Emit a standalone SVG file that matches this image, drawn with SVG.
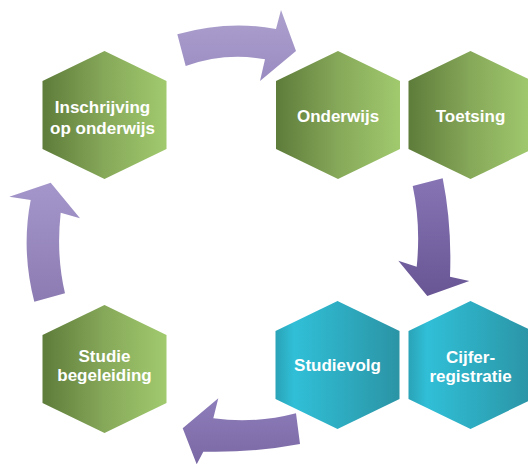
<svg xmlns="http://www.w3.org/2000/svg" xmlns:xlink="http://www.w3.org/1999/xlink" width="528" height="464" viewBox="0 0 528 464">
<style>
.lbl{font-family:"Liberation Sans",Arial,sans-serif;font-weight:bold;font-size:17px;fill:#ffffff;text-anchor:middle}
</style>
<defs>
<linearGradient id="green" x1="0" y1="0" x2="1" y2="0">
<stop offset="0" stop-color="#5e7c3a"/>
<stop offset="0.5" stop-color="#86a859"/>
<stop offset="1" stop-color="#a1ca6e"/>
</linearGradient>
<linearGradient id="teal" x1="0" y1="0" x2="1" y2="0">
<stop offset="0" stop-color="#2aa3b7"/>
<stop offset="0.15" stop-color="#30bfd7"/>
<stop offset="1" stop-color="#2b94a5"/>
</linearGradient>
<linearGradient id="aTop" x1="0" y1="0" x2="0" y2="1">
<stop offset="0" stop-color="#ada1ce"/>
<stop offset="1" stop-color="#9a8bc1"/>
</linearGradient>
<linearGradient id="aRight" x1="0" y1="0" x2="0" y2="1">
<stop offset="0" stop-color="#8674b4"/>
<stop offset="1" stop-color="#685594"/>
</linearGradient>
<linearGradient id="aBottom" x1="0" y1="0" x2="0" y2="1">
<stop offset="0" stop-color="#8d7dba"/>
<stop offset="1" stop-color="#7a68a4"/>
</linearGradient>
<linearGradient id="aLeft" x1="0" y1="0" x2="0" y2="1">
<stop offset="0" stop-color="#a496ca"/>
<stop offset="1" stop-color="#8c7bb2"/>
</linearGradient>
<path id="hex" d="M0,-64 L62,-34 L62,34 L0,64 L-62,34 L-62,-34 Z"/>
</defs>
<rect width="528" height="464" fill="#ffffff"/>
<g id="connectors">
<path id="arrow-top" fill="url(#aTop)" d="M177.3,34.3 Q228,20 276,29 L281,10 L296,51 L260,81 L265,59.3 Q225,52 185.7,66 Z"/>
<path id="arrow-right" fill="url(#aRight)" d="M412.7,186 L442.7,178.3 Q452,225 450,276.7 L469.3,281 L427.3,296 L398.3,260.7 L416.7,266.7 Q421,225 412.7,186 Z"/>
<path id="arrow-bottom" fill="url(#aBottom)" d="M296,413.3 L300,444 Q252,453 203.3,451.7 L196.7,464.3 L182.7,428.3 L218.3,398.3 L213.3,418.3 Q255,424 296,413.3 Z"/>
<path id="arrow-left" fill="url(#aLeft)" d="M34.3,301.7 L65,293.3 Q56,255 60.7,212.7 L80,218.3 L50.7,182.7 L9.3,196.7 L30.7,200 Q21,250 34.3,301.7 Z"/>
</g>
<g id="node-inschrijving" transform="translate(104.5,115)">
<use xlink:href="#hex" fill="url(#green)"/>
<text class="lbl" x="-2" y="-2">Inschrijving</text>
<text class="lbl" x="-2" y="19">op onderwijs</text>
</g>
<g id="node-onderwijs" transform="translate(338,115)">
<use xlink:href="#hex" fill="url(#green)"/>
<text class="lbl" x="0" y="6.5">Onderwijs</text>
</g>
<g id="node-toetsing" transform="translate(470.5,115)">
<use xlink:href="#hex" fill="url(#green)"/>
<text class="lbl" x="0" y="6.5">Toetsing</text>
</g>
<g id="node-studiebegeleiding" transform="translate(104.5,369)">
<use xlink:href="#hex" fill="url(#green)"/>
<text class="lbl" x="0" y="-7.5">Studie</text>
<text class="lbl" x="0" y="12">begeleiding</text>
</g>
<g id="node-studievolg" transform="translate(337.5,365)">
<use xlink:href="#hex" fill="url(#teal)"/>
<text class="lbl" x="0" y="5.5">Studievolg</text>
</g>
<g id="node-cijferregistratie" transform="translate(470.5,365)">
<use xlink:href="#hex" fill="url(#teal)"/>
<text class="lbl" x="0" y="-2.5">Cijfer-</text>
<text class="lbl" x="0" y="16.5">registratie</text>
</g>
</svg>
